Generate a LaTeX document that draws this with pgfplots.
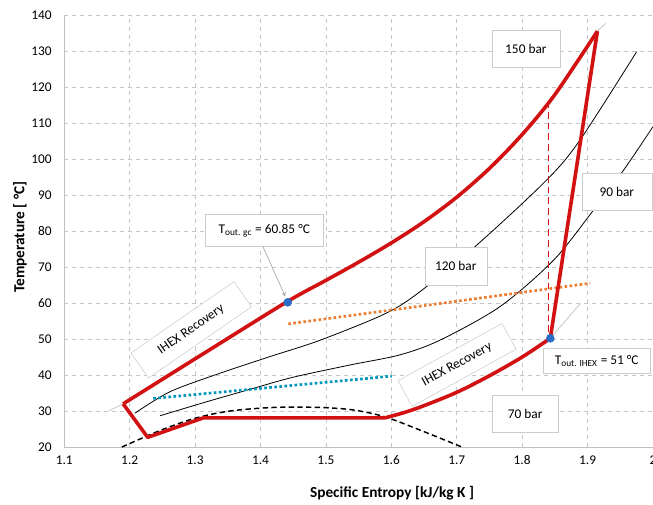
\documentclass[border=0pt]{standalone}
\usepackage{fontspec}
\setmainfont{Carlito}
\usepackage{pgfplots}
\pgfplotsset{compat=1.18}
\definecolor{cyc}{RGB}{210,18,18}
\definecolor{dotblue}{RGB}{40,110,200}
\definecolor{orgdot}{RGB}{237,125,49}
\definecolor{tealdot}{RGB}{0,150,190}

\begin{document}
\begin{tikzpicture}[font=\fontsize{10}{12}\selectfont,
  lbl/.style={draw=gray!40, fill=white, inner sep=2pt, align=center}]
\begin{axis}[
  scale only axis, width=441.5pt, height=324pt,
  xmin=1.1, xmax=2.0, ymin=20, ymax=140,
  xtick={1.1,1.2,1.3,1.4,1.5,1.6,1.7,1.8,1.9,2.0},
  xticklabels={1.1,1.2,1.3,1.4,1.5,1.6,1.7,1.8,1.9,2},
  ytick={20,30,40,50,60,70,80,90,100,110,120,130,140},
  grid=major, major grid style={gray!45, dashed, line width=0.5pt},
  axis lines*=left, axis line style={gray!50},
  major tick length=0pt,
  tick label style={font=\fontsize{10}{12}\selectfont},
  /pgf/number format/assume math mode=true,
  yticklabel style={xshift=-6pt},
  xticklabel style={yshift=-3pt},
  label style={font=\fontsize{11.5}{13}\selectfont\bfseries},
  xlabel={Specific Entropy [kJ/kg K ]},
  ylabel={Temperature [ °C]},
  xlabel style={at={(axis description cs:0.5567,-0.1065)}, anchor=center},
  ylabel style={at={(axis description cs:-0.0752,0.486)}, anchor=center},
]
\coordinate (SW) at (rel axis cs:0,0);
\coordinate (NE) at (rel axis cs:1,1);

% thin isobars
\addplot[black, line width=0.6pt, smooth] coordinates {
 (1.208,29.4) (1.262,35.4) (1.338,40.5) (1.414,45.1) (1.49,49.6)
 (1.5878,56.8) (1.639,62.5) (1.73,76.0) (1.8376,94.2) (1.8885,105.3) (1.975,129.8)};
\addplot[black, line width=0.6pt, smooth] coordinates {
 (1.2465,28.7) (1.3125,32.3) (1.389,36.3) (1.45,39.4) (1.537,42.8) (1.613,45.6)
 (1.6745,49.7) (1.766,59) (1.848,71.9) (1.909,85.8) (1.955,96.9) (2.0,109)};

% grey extensions
\addplot[gray!45, line width=0.6pt] coordinates {(1.168,30) (1.19,32)};
\addplot[gray!45, line width=0.6pt] coordinates {(1.843,50.2) (1.889,59.9)};
\addplot[gray!45, line width=0.6pt] coordinates {(1.914,135.4) (1.928,137.7)};

% dotted lines
\addplot[orgdot, line width=2pt, dash pattern=on 2pt off 1.8pt] coordinates {(1.4425,54.2) (1.904,65.5)};
\addplot[tealdot, line width=2pt, dash pattern=on 2pt off 1.8pt] coordinates {(1.236,33.5) (1.6006,39.7)};

% saturation dome
\addplot[black, line width=1.1pt, dash pattern=on 4pt off 2.5pt, smooth] coordinates {
 (1.188,20) (1.2465,24.6) (1.3,28.0) (1.353,30.0) (1.42,31.0) (1.49,31.0)
 (1.542,30.3) (1.59,28.4) (1.644,24.7) (1.708,20)};

% cycle
\addplot[cyc, line width=2.7pt, smooth] coordinates {
 (1.19,32) (1.315,46.2) (1.44,60.3) (1.50,66.3) (1.55,71.35) (1.60,76.7) (1.65,82.6)
 (1.70,89.4) (1.75,97.4) (1.80,106.8) (1.85,117.9) (1.915,135.5)};
\addplot[cyc, line width=2.7pt, line join=round] coordinates {
 (1.19,32) (1.2275,22.7) (1.3125,28.1) (1.59,28.1)};
\addplot[cyc, line width=2.7pt, smooth] coordinates {
 (1.59,28.1) (1.62,29.6) (1.65,31.5) (1.70,35.2) (1.75,39.8) (1.80,45.0) (1.843,50.2)};
\addplot[cyc, line width=2.7pt, line join=round] coordinates {(1.843,50.2) (1.915,135.5)};
\addplot[cyc, line width=1.1pt, dash pattern=on 5pt off 3pt] coordinates {(1.840,116.0) (1.840,51)};

% labels
\node[lbl, minimum width=51pt, minimum height=27.75pt] at (axis cs:1.8057,130.7) {150 bar};
\node[lbl, minimum width=52.5pt, minimum height=27.75pt] at (axis cs:1.9447,90.9) {90 bar};
\node[lbl, minimum width=46.5pt, minimum height=28.5pt] at (axis cs:1.6986,70.3) {120 bar};
\node[lbl, minimum width=50pt, minimum height=27.75pt] at (axis cs:1.8045,29.3) {70 bar};
\node[lbl, minimum width=88.7pt, minimum height=24.5pt] at (axis cs:1.4057,80.2) {T\textsubscript{out. gc} = 60.85 °C};
\node[lbl, minimum width=80pt, minimum height=18.3pt] at (axis cs:1.914,44.0) {T\textsubscript{out. IHEX} = 51 °C};
\node[lbl, rotate=34.7, minimum width=94pt, minimum height=23pt] at (axis cs:1.2941,52.55) {IHEX Recovery};
\node[lbl, rotate=28.8, minimum width=89pt, minimum height=22pt] at (axis cs:1.7005,42.8) {IHEX Recovery};
\draw[gray!70, line width=0.5pt, -stealth] (axis cs:1.4038,75.6) -- (axis cs:1.438,61.8);

% state points
\addplot[only marks, mark=*, mark size=3pt, color=dotblue] coordinates {(1.4416,60.2) (1.843,50.2)};
\end{axis}
\pgfresetboundingbox
\path[use as bounding box] ([xshift=-48.2pt,yshift=-42.75pt]SW) rectangle ([yshift=11.25pt]NE);
\end{tikzpicture}
\end{document}
